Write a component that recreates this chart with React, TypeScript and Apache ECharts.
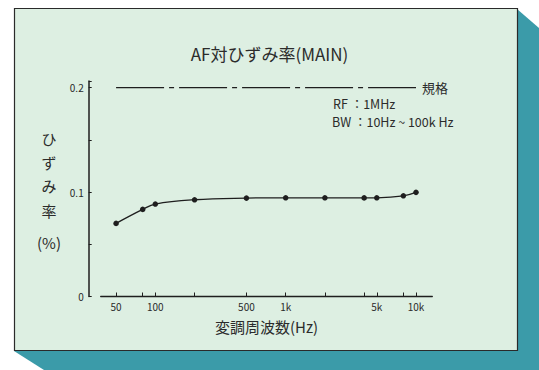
import React, { useEffect, useRef } from "react";
import * as echarts from "echarts";

// Data
const freqs = [50, 80, 100, 200, 500, 1000, 2000, 4000, 5000, 8000, 10000];
const distortion = [0.07, 0.0834, 0.0885, 0.0926, 0.0942, 0.0945, 0.0945, 0.0944, 0.0945, 0.0964, 0.0997];
const specFreqs = [50, 10000];
const specValue = 0.2;
const xTickFreqs = [50, 80, 100, 200, 500, 1000, 2000, 4000, 5000, 8000, 10000];
const xLabelFreqs = [50, 100, 500, 1000, 5000, 10000];
const xLabelTexts = ["50", "100", "500", "1k", "5k", "10k"];
const yLabelValues = [0, 0.1, 0.2];
const yLabelTexts = ["0", "0.1", "0.2"];

const FONT = "'Noto Sans CJK JP', 'Noto Sans', sans-serif";
const TEXT = "#2b2b2b";
const LINE = "#1e1e1e";

export default function App() {
  const ref = useRef<HTMLDivElement>(null);
  useEffect(() => {
    if (!ref.current) return;
    const chart = echarts.init(ref.current, undefined, { renderer: "svg" });
    const lg = (f: number) => Math.log10(f);
    const yNameChars = ["ひ", "ず", "み", "率"];
    const yNameY = [138, 162, 185, 210];
    const option: any = {
      animation: false,
      backgroundColor: "#ffffff",
      title: {
        text: "AF対ひずみ率(MAIN)",
        left: "center",
        top: 40,
        textStyle: { fontFamily: FONT, fontSize: 17, fontWeight: "normal", color: TEXT },
      },
      graphic: [
        {
          type: "polygon",
          z: -10,
          silent: true,
          shape: { points: [[517, 9], [539, 28], [539, 370], [44, 370], [14, 351]] },
          style: { fill: "#3b9ba9" },
        },
        {
          type: "rect",
          z: -9,
          silent: true,
          shape: { x: 14.5, y: 8.5, width: 503, height: 342 },
          style: { fill: "#ddefe2", stroke: "#2a2a2a", lineWidth: 1.2 },
        },
        ...yNameChars.map((c, i) => ({
          type: "text",
          silent: true,
          x: 49,
          y: yNameY[i],
          style: { text: c, fontFamily: FONT, fontSize: 15, fill: TEXT, align: "center", verticalAlign: "middle" },
        })),
        {
          type: "text",
          silent: true,
          x: 49,
          y: 242,
          style: { text: "(%)", fontFamily: FONT, fontSize: 15, fill: TEXT, align: "center", verticalAlign: "middle" },
        },
        {
          type: "text",
          silent: true,
          x: 333,
          y: 103,
          style: { text: "RF ：1MHz", fontFamily: FONT, fontSize: 12.5, fill: TEXT, align: "left", verticalAlign: "middle" },
        },
        {
          type: "text",
          silent: true,
          x: 332,
          y: 121,
          style: { text: "BW ：10Hz ~ 100k Hz", fontFamily: FONT, fontSize: 12.5, fill: TEXT, align: "left", verticalAlign: "middle" },
        },
      ],
      grid: { left: 100.7, right: 106.7, top: 81, bottom: 73.5, containLabel: false },
      xAxis: {
        type: "value",
        min: 1.581,
        max: 4.125,
        name: "変調周波数(Hz)",
        nameLocation: "middle",
        nameGap: 22,
        nameTextStyle: { fontFamily: FONT, fontSize: 15, color: TEXT },
        axisLine: { show: true, lineStyle: { color: LINE, width: 1.3 } },
        axisTick: {
          show: true,
          inside: true,
          length: 4,
          lineStyle: { color: LINE, width: 1 },
          customValues: xTickFreqs.map(lg),
        },
        axisLabel: {
          show: true,
          margin: 5,
          fontFamily: FONT,
          fontSize: 10,
          color: TEXT,
          customValues: xLabelFreqs.map(lg),
          formatter: (v: number) => {
            let best = 0;
            for (let i = 0; i < xLabelFreqs.length; i++) {
              if (Math.abs(lg(xLabelFreqs[i]) - v) < Math.abs(lg(xLabelFreqs[best]) - v)) best = i;
            }
            return xLabelTexts[best];
          },
        },
        splitLine: { show: false },
      },
      yAxis: {
        type: "value",
        min: 0,
        max: 0.2063,
        interval: 0.05,
        offset: 12,
        axisLine: { show: true, lineStyle: { color: LINE, width: 1.5 } },
        axisTick: { show: true, inside: true, length: 3, lineStyle: { color: LINE, width: 1 } },
        axisLabel: {
          show: true,
          margin: 5,
          fontFamily: FONT,
          fontSize: 10,
          color: TEXT,
          formatter: (v: number) => {
            for (let i = 0; i < yLabelValues.length; i++) {
              if (Math.abs(yLabelValues[i] - v) < 1e-6) return yLabelTexts[i];
            }
            return "";
          },
        },
        splitLine: { show: false },
      },
      series: [
        {
          name: "規格",
          type: "line",
          data: specFreqs.map((f) => [lg(f), specValue]),
          showSymbol: false,
          symbol: "none",
          lineStyle: { color: LINE, width: 1.2, type: [48, 5, 5, 5] },
          endLabel: {
            show: true,
            formatter: "規格",
            distance: 6,
            fontFamily: FONT,
            fontSize: 13,
            color: TEXT,
          },
          silent: true,
        },
        {
          name: "ひずみ率",
          type: "line",
          smooth: 0.4,
          data: freqs.map((f, i) => [lg(f), distortion[i]]),
          symbol: "circle",
          symbolSize: 5.5,
          itemStyle: { color: LINE },
          lineStyle: { color: LINE, width: 1.3 },
        },
      ],
    };
    chart.setOption(option);
    return () => chart.dispose();
  }, []);
  return (
    <div
      ref={ref}
      style={{ position: "absolute", left: 0, top: 0, width: 539, height: 370 }}
    />
  );
}
